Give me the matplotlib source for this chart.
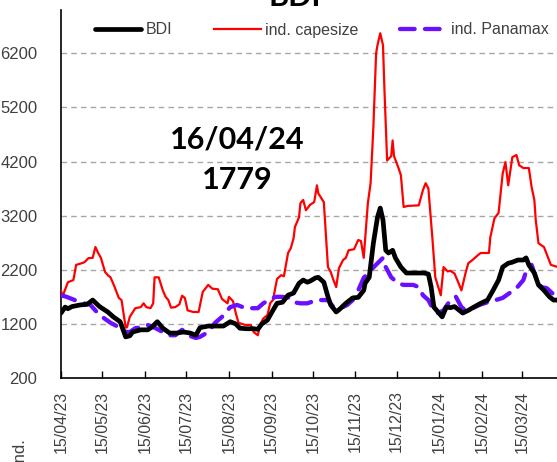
import datetime as dt
import matplotlib
matplotlib.use("Agg")
import matplotlib.pyplot as plt
import matplotlib.dates as mdates
from matplotlib.lines import Line2D

START = dt.date(2023, 4, 15)

# days since 15/04/23 and values
cape_days = [0, 1, 5, 9, 11, 15, 17, 20, 23, 25, 27, 29, 32, 34, 36, 39, 42, 44, 47, 48, 50, 54, 58, 60,
             62, 65, 67, 68, 71, 74, 76, 78, 80, 83, 86, 88, 90, 92, 96, 100, 103, 107, 110, 114, 117,
             121, 122, 125, 127, 129, 134, 138, 140, 143, 145, 147, 150, 152, 154, 157, 160, 162, 165,
             167, 169, 170, 173, 174, 176, 178, 181, 184, 186, 187, 191, 194, 196, 198, 200, 202, 205,
             207, 209, 213, 216, 218, 220, 223, 225, 227, 229, 230, 232, 234, 235, 237, 240, 241, 242,
             245, 247, 249, 252, 260, 263, 265, 267, 270, 272, 276, 278, 281, 283, 286, 288, 291, 294,
             296, 299, 303, 305, 311, 312, 315, 318, 321, 323, 325, 328, 331, 333, 336, 340, 342, 344,
             345, 347, 351, 354, 356, 361, 367]
cape_vals = [1825, 1700, 1970, 2010, 2290, 2320, 2340, 2415, 2420, 2620, 2510, 2420, 2160, 2100, 2060, 1880,
             1680, 1640, 1130, 1140, 1330, 1490, 1510, 1580, 1510, 1490, 1580, 2060, 2060, 1820, 1700,
             1640, 1500, 1510, 1560, 1720, 1680, 1450, 1420, 1420, 1790, 1920, 1850, 1840, 1660, 1580,
             1700, 1620, 1400, 1220, 1180, 1180, 1050, 990, 1200, 1300, 1360, 1580, 1640, 2030, 2100,
             2080, 2510, 2600, 2780, 2990, 3170, 3430, 3490, 3300, 3400, 3450, 3760, 3610, 3450, 2250,
             2160, 2010, 1880, 2230, 2380, 2420, 2560, 2580, 2750, 2730, 2420, 3430, 3800, 4830, 6200,
             6350, 6570, 6350, 5570, 4220, 4300, 4590, 4300, 4100, 3950, 3360, 3380, 3390, 3670, 3800,
             3700, 2750, 2060, 1730, 2250, 2170, 2180, 2130, 2010, 1820, 2140, 2320, 2380, 2470, 2510,
             2510, 2800, 3150, 3250, 3980, 4190, 3760, 4280, 4320, 4130, 4080, 4080, 3730, 3490, 3120,
             2690, 2620, 2420, 2290, 2250, 2250]

bdi_days = [0, 3, 5, 8, 14, 19, 23, 28, 34, 38, 43, 47, 50, 52, 58, 63, 66, 70, 74, 79, 84, 89, 94, 98,
            101, 107, 114, 118, 123, 127, 130, 135, 140, 143, 146, 150, 154, 157, 161, 165, 169, 173,
            176, 179, 181, 185, 187, 191, 194, 196, 200, 202, 207, 212, 216, 220, 221, 224, 227, 230,
            232, 234, 236, 238, 241, 243, 247, 251, 256, 264, 267, 269, 271, 274, 277, 280, 283, 286,
            288, 292, 296, 300, 305, 310, 314, 318, 321, 325, 328, 332, 336, 338, 340, 344, 347, 351,
            355, 358, 361, 367]
bdi_vals = [1400, 1510, 1480, 1520, 1550, 1560, 1640, 1520, 1420, 1330, 1240, 960, 980, 1050, 1090, 1090,
            1140, 1240, 1120, 1030, 1030, 1050, 1030, 990, 1130, 1160, 1160, 1160, 1240, 1200, 1120, 1110,
            1110, 1100, 1200, 1270, 1450, 1580, 1600, 1730, 1770, 1950, 2010, 1970, 1990, 2050, 2060,
            1970, 1700, 1550, 1420, 1460, 1580, 1680, 1690, 1820, 1950, 2060, 2690, 3170, 3340, 3120,
            2560, 2510, 2560, 2420, 2250, 2140, 2140, 2140, 2120, 1880, 1510, 1420, 1330, 1510, 1500,
            1520, 1480, 1400, 1450, 1510, 1580, 1640, 1820, 2010, 2250, 2320, 2340, 2380, 2380, 2420,
            2290, 2140, 1920, 1820, 1700, 1640, 1640, 1779]

pana_days = [0, 4, 10, 16, 21, 26, 31, 36, 42, 47, 50, 54, 59, 63, 68, 74, 78, 83, 88, 92, 98, 101, 107,
             112, 117, 123, 128, 133, 138, 143, 147, 151, 156, 160, 165, 169, 174, 179, 186, 194, 198,
             203, 208, 212, 216, 220, 225, 230, 234, 236, 240, 245, 249, 256, 260, 263, 267, 270, 274,
             278, 283, 287, 291, 294, 299, 304, 310, 316, 321, 326, 331, 336, 339, 342, 345, 349, 353,
             356, 360, 367]
pana_vals = [1730, 1700, 1640, 1580, 1560, 1420, 1310, 1220, 1140, 1050, 1050, 1120, 1140, 1180, 1130, 1050,
             990, 990, 1090, 990, 940, 960, 1050, 1220, 1330, 1510, 1550, 1500, 1490, 1490, 1580, 1640,
             1700, 1700, 1690, 1600, 1580, 1580, 1640, 1640, 1510, 1490, 1550, 1640, 1820, 2050, 2190,
             2320, 2420, 2250, 2060, 1950, 1920, 1920, 1880, 1730, 1640, 1490, 1400, 1450, 1640, 1700,
             1510, 1450, 1490, 1550, 1600, 1640, 1680, 1770, 1860, 2010, 2250, 2290, 2060, 1880, 1860,
             1790, 1700, 1650]

series_labels = ["BDI", "ind. capesize", "ind. Panamax"]
yticks = [200, 1200, 2200, 3200, 4200, 5200, 6200]
title_text = "BDI"
annot_date = "16/04/24"
annot_value = "1779"


def to_dates(days):
    return [START + dt.timedelta(days=d) for d in days]


W, H = 557, 462
fig = plt.figure(figsize=(W / 100, H / 100), dpi=100)
left, right, top, bottom = 61, 566, 10, 378
ax = fig.add_axes([left / W, 1 - bottom / H, (right - left) / W, (bottom - top) / H])

purple = "#6a10ff"
ax.plot(to_dates(cape_days), cape_vals, color="#ff0000", lw=1.6, zorder=3, label=series_labels[1])
ax.plot(to_dates(pana_days), pana_vals, color=purple, lw=3.1, zorder=4,
        dashes=(3.4, 2.4), dash_capstyle="round", label=series_labels[2])
ax.plot(to_dates(bdi_days), bdi_vals, color="black", lw=3.4, zorder=5,
        solid_capstyle="round", solid_joinstyle="round", label=series_labels[0])

ax.set_ylim(200, 7000)
ax.set_xlim(dt.date(2023, 4, 15), dt.date(2024, 4, 16))
ax.set_yticks(yticks)
ax.set_yticklabels([str(v) for v in yticks])

for v in yticks[1:]:
    ax.axhline(v, color="#a6a6a6", lw=1.0, dashes=(4, 3), zorder=1)

ax.xaxis.set_major_locator(mdates.MonthLocator(bymonthday=15))
ax.xaxis.set_major_formatter(mdates.DateFormatter("%d/%m/%y"))
ax.tick_params(axis="x", direction="in", length=5, width=1, color="black",
               labelsize=11.5, labelcolor="#404040", pad=9, labelrotation=90)
ax.tick_params(axis="y", length=0, labelsize=12, labelcolor="#404040", pad=17)
for lab in ax.get_xticklabels() + ax.get_yticklabels():
    lab.set_family(["Liberation Sans", "DejaVu Sans"])
fig.canvas.draw()
xt = ax.get_xticklabels()
if xt:
    xt[-1].set_color("#f3e9a0")

for s in ["top", "right"]:
    ax.spines[s].set_visible(False)
for s in ["left", "bottom"]:
    ax.spines[s].set_color("black")
    ax.spines[s].set_linewidth(1.2)

handles = [
    Line2D([], [], color="black", lw=3.4, solid_capstyle="round"),
    Line2D([], [], color="#ff0000", lw=1.6),
    Line2D([], [], color=purple, lw=3.1, dashes=(3.4, 2.4), dash_capstyle="round"),
]
leg = fig.legend(handles, series_labels, loc="center left", ncol=3, frameon=False,
                 bbox_to_anchor=(95 / W, 1 - 30 / H), borderpad=0, borderaxespad=0,
                 handlelength=2.9, handletextpad=0.3, columnspacing=2.6,
                 prop={"family": ["Liberation Sans", "DejaVu Sans"], "size": 11.5})
for t in leg.get_texts():
    t.set_color("#404040")

fig.text(295 / W, 1 - 6 / H, title_text, ha="center", va="baseline",
         fontsize=22, fontweight="bold", family=["Lato", "DejaVu Sans"])
ax.text(237 / W, 1 - 140 / H, annot_date, transform=fig.transFigure, ha="center", va="center",
        fontsize=22, fontweight="bold", family=["Lato", "DejaVu Sans"], zorder=6)
ax.text(237 / W, 1 - 180 / H, annot_value, transform=fig.transFigure, ha="center", va="center",
        fontsize=22, fontweight="bold", family=["Lato", "DejaVu Sans"], zorder=6)

fig.text(19 / W, 1 - 437 / H, "Ind.", rotation=90, ha="center", va="top",
         fontsize=12, color="#404040", family=["Liberation Sans", "DejaVu Sans"])

fig.savefig("out.png", dpi=100)
